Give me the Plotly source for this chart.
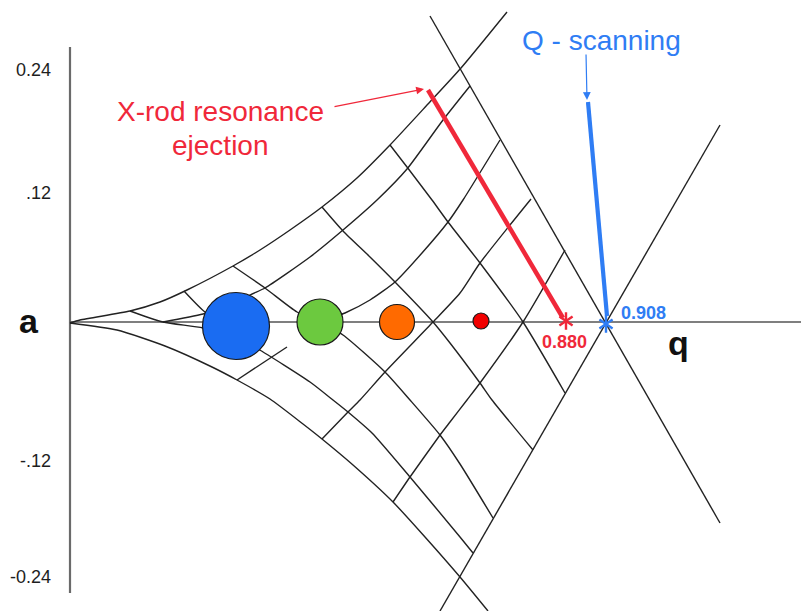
import plotly.graph_objects as go

# Sketch frame: horizontal = q direction, vertical = a direction (screen units, y grows downward)
W, H = 801, 611

# Axes of the (q, a) diagram
a_axis = [(70, 47), (70, 593)]
q_axis = [(70, 322), (801, 322)]
a_tick_text = ["0.24", ".12", "-.12", "-0.24"]
a_tick_pos = [70, 193, 461, 577]

# Outline of the first stability region (upper / lower edges and the crossing straight edges)
upper_edge = [(70, 323), (80, 320), (130, 311), (160, 302), (187, 290), (233, 266), (260, 250),
              (290, 230), (322, 207), (357, 178), (390, 145), (428, 104), (461, 68), (507, 12)]
lower_edge = [(70, 323), (117, 330), (165, 346), (212, 367), (237, 380), (270, 399), (303, 424),
              (322, 439), (353, 465), (393, 502), (425, 537), (460, 577), (488, 611)]
right_edge_down = [(430, 16), (720, 523)]
right_edge_up = [(720, 125), (440, 611)]

# Iso-beta lines rising to the right
iso_rising = [
    [(163, 322), (203, 314), (236, 304), (250, 295), (265, 288), (310, 257), (343, 230),
     (377, 200), (407, 169), (443, 120), (470, 86)],
    [(320, 322), (345, 313), (370, 300), (395, 282), (422, 253), (448, 222), (463, 200), (500, 140)],
    [(322, 439), (348, 412), (360, 400), (385, 372), (433, 322), (460, 293), (480, 263), (531, 199)],
    [(393, 502), (410, 477), (440, 435), (450, 422), (467, 400), (480, 383), (523, 322), (565, 250)],
    [(237, 380), (287, 347)],
]

# Iso-beta lines falling to the right
iso_falling = [
    [(130, 311), (163, 322), (203, 328), (236, 338), (258, 349), (310, 382), (333, 400),
     (348, 412), (372, 433), (410, 477), (460, 537), (473, 553)],
    [(184, 291), (205, 312), (225, 322)],
    [(233, 266), (265, 288), (297, 312), (320, 322), (343, 335), (385, 372), (410, 400),
     (440, 435), (460, 464), (493, 518)],
    [(322, 207), (343, 231), (370, 257), (395, 282), (433, 322), (450, 343), (480, 383),
     (492, 400), (533, 450)],
    [(390, 145), (407, 167), (432, 200), (448, 222), (480, 263), (523, 322), (565, 393)],
]

# Ions sitting on the q axis
ion_x = [236, 320, 397, 481]
ion_y = [326, 322, 322, 321]
ion_size = [67, 46, 35, 16]
ion_color = ["#1a6cf2", "#6cc93f", "#ff6a00", "#f20000"]

# Scan paths and ejection points
resonance_path = [(428, 90), (563, 318)]
scan_path = [(588, 102), (607, 316)]
eject_q = [0.880, 0.908]
eject_pos = [(566, 321), (606, 324)]

RED = "#f0283a"
BLUE = "#2f7df4"
INK = "#222222"
FONT = "Liberation Sans, Arial, sans-serif"


def xs(pts):
    return [p[0] for p in pts]


def ys(pts):
    return [p[1] for p in pts]


fig = go.Figure()


def add_path(pts, color=INK, width=1.4, smooth=False):
    fig.add_trace(go.Scatter(
        x=xs(pts), y=ys(pts), mode="lines",
        line=dict(color=color, width=width, shape="spline" if smooth else "linear",
                  smoothing=0.6 if smooth else None),
        hoverinfo="skip"))


add_path(a_axis, color="#6a6a6a", width=2.2)
add_path(q_axis, color="#555555", width=1.7)

add_path(upper_edge, smooth=True)
add_path(lower_edge, smooth=True)
add_path(right_edge_down)
add_path(right_edge_up)
for line in iso_rising:
    add_path(line, smooth=True)
for line in iso_falling:
    add_path(line, smooth=True)

fig.add_trace(go.Scatter(
    x=ion_x, y=ion_y, mode="markers",
    marker=dict(size=ion_size, color=ion_color, opacity=1,
                line=dict(color="#1a1a1a", width=1.2)),
    hoverinfo="skip"))

add_path(resonance_path, color=RED, width=4.5)
add_path(scan_path, color=BLUE, width=4.2)

star_colors = [RED, BLUE]
for sym in ("y-up-open", "y-down-open"):
    fig.add_trace(go.Scatter(
        x=xs(eject_pos), y=ys(eject_pos), mode="markers",
        marker=dict(symbol=sym, size=11, color=star_colors, opacity=1,
                    line=dict(color=star_colors, width=2.4)),
        hoverinfo="skip"))

ann = []
for txt, yv in zip(a_tick_text, a_tick_pos):
    ann.append(dict(x=53, y=yv, text=txt, showarrow=False, xanchor="right", yanchor="middle",
                    font=dict(family=FONT, size=18, color="#1e1e1e")))

ann.append(dict(x=29, y=321, text="<b>a</b>", showarrow=False, xanchor="center", yanchor="middle",
                font=dict(family=FONT, size=34, color="#111111")))
ann.append(dict(x=678, y=343, text="<b>q</b>", showarrow=False, xanchor="center", yanchor="middle",
                font=dict(family=FONT, size=34, color="#111111")))

ann.append(dict(x=220, y=111, text="X-rod resonance", showarrow=False, xanchor="center",
                yanchor="middle", font=dict(family=FONT, size=28, color=RED)))
ann.append(dict(x=220, y=145, text="ejection", showarrow=False, xanchor="center",
                yanchor="middle", font=dict(family=FONT, size=28, color=RED)))
ann.append(dict(x=601, y=40, text="Q - scanning", showarrow=False, xanchor="center",
                yanchor="middle", font=dict(family=FONT, size=28, color=BLUE)))

ann.append(dict(x=564, y=342, text="<b>%.3f</b>" % eject_q[0], showarrow=False, xanchor="center",
                yanchor="middle", font=dict(family=FONT, size=18, color=RED)))
ann.append(dict(x=619, y=313, text="<b>%.3f</b>" % eject_q[1], showarrow=False, xanchor="left",
                yanchor="middle", font=dict(family=FONT, size=18, color=BLUE)))

# Pointer arrows from the captions
ann.append(dict(x=424, y=89, ax=333, ay=107, axref="x", ayref="y", xref="x", yref="y",
                text="", showarrow=True, arrowhead=2, arrowsize=1.3, arrowwidth=1.2,
                arrowcolor=RED))
ann.append(dict(x=587, y=100, ax=586, ay=53, axref="x", ayref="y", xref="x", yref="y",
                text="", showarrow=True, arrowhead=2, arrowsize=1.3, arrowwidth=1.2,
                arrowcolor=BLUE))

fig.update_layout(
    width=W, height=H,
    margin=dict(l=0, r=0, t=0, b=0),
    paper_bgcolor="white", plot_bgcolor="white",
    showlegend=False,
    xaxis=dict(range=[0, W], visible=False, fixedrange=True),
    yaxis=dict(range=[H, 0], visible=False, fixedrange=True),
    annotations=ann,
)

fig.write_html("out.html")
